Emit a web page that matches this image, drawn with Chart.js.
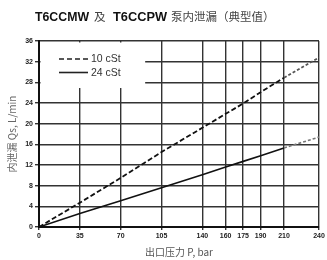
<!DOCTYPE html>
<html><head><meta charset="utf-8">
<script src="https://cdn.jsdelivr.net/npm/chart.js@4/dist/chart.umd.min.js"></script>
<style>html,body{margin:0;padding:0;background:#fff}#wrap{width:327px;height:260px}</style>
</head><body><div id="wrap"><canvas id="c" width="327" height="260"></canvas></div>
<script>
const pressure = [0, 35, 70, 105, 140, 160, 175, 190, 210, 240];
const xTickValues = [0, 35, 70, 105, 140, 160, 175, 190, 210, 240];
const cst10 = [0, 4.7, 9.5, 14.5, 19.2, 21.9, 23.9, 26.1, 28.9, 32.8];
const cst24 = [0, 2.6, 5.1, 7.6, 10.1, 11.6, 12.7, 13.8, 15.3, 17.4];
const seriesNames = ['10 cSt', '24 cSt'];
const titleParts = ['T6CCMW', '及', 'T6CCPW', '泵内泄漏（典型值）'];
const FONT = '"Liberation Sans", Arial, "Noto Sans CJK SC", sans-serif';
const CJK = '"Noto Sans CJK SC", "Liberation Sans", sans-serif';

const dim = (ctx, v) => ctx.p0.parsed.x >= 210 ? v : undefined;

const overlay = {
  id: 'overlay',
  beforeDatasetsDraw(chart) {
    const {ctx, scales: {x, y}, chartArea: a} = chart;
    ctx.save();
    ctx.fillStyle = '#fff';
    const r = x.getPixelForValue(91), b = y.getPixelForValue(26.9);
    ctx.fillRect(a.left + 1.5, a.top + 1.5, r - a.left - 1.5, b - a.top - 1.5);
    const items = [[seriesNames[0], [5, 3]], [seriesNames[1], []]];
    items.forEach((it, i) => {
      const yy = a.top + 18 + i * 13.5;
      ctx.strokeStyle = '#222'; ctx.lineWidth = 1.6; ctx.setLineDash(it[1]);
      ctx.beginPath(); ctx.moveTo(a.left + 20, yy); ctx.lineTo(a.left + 49, yy); ctx.stroke();
      ctx.setLineDash([]);
      ctx.fillStyle = '#333'; ctx.font = '10.5px ' + FONT; ctx.textBaseline = 'middle';
      ctx.fillText(it[0], a.left + 52, yy + 0.5);
    });
    ctx.restore();
  },
  afterDraw(chart) {
    const ctx = chart.ctx;
    ctx.save();
    ctx.textBaseline = 'middle';
    const starts = [35, 94, 113, 171];
    const widths = [54, 13, 54, 104];
    titleParts.forEach((p, i) => {
      if (i % 2 === 0) { ctx.font = 'bold 13px ' + FONT; ctx.fillStyle = '#111'; }
      else { ctx.font = '11.5px ' + CJK; ctx.fillStyle = '#444'; }
      ctx.fillText(p, starts[i], 17, widths[i]);
    });
    ctx.restore();
  }
};

new Chart(document.getElementById('c'), {
  type: 'line',
  data: {
    datasets: [
      {
        label: seriesNames[0],
        data: pressure.map((p, i) => ({x: p, y: cst10[i]})),
        borderColor: '#111', borderWidth: 1.8, borderDash: [5, 2.5],
        pointRadius: 0, fill: false, tension: 0,
        segment: { borderDash: c => dim(c, [3, 2]), borderColor: c => dim(c, '#555') }
      },
      {
        label: seriesNames[1],
        data: pressure.map((p, i) => ({x: p, y: cst24[i]})),
        borderColor: '#111', borderWidth: 1.6,
        pointRadius: 0, fill: false, tension: 0,
        segment: { borderDash: c => dim(c, [3, 2]), borderColor: c => dim(c, '#777') }
      }
    ]
  },
  options: {
    responsive: false, animation: false, devicePixelRatio: 1,
    layout: { padding: { top: 41, right: 8, left: 0, bottom: 0 } },
    plugins: { legend: { display: false }, tooltip: { enabled: false } },
    scales: {
      x: {
        type: 'linear', min: 0, max: 240,
        afterBuildTicks: s => { s.ticks = xTickValues.map(v => ({value: v})); },
        afterFit: s => { s.height = 33; },
        grid: { color: '#333', lineWidth: 1.4, tickLength: 3, drawTicks: true },
        border: { color: '#111', width: 2 },
        ticks: { autoSkip: false, maxRotation: 0, padding: 2, color: '#222', font: { size: 7, weight: 'bold', family: FONT } },
        title: { display: true, text: '出口压力 P, bar', color: '#555', font: { size: 10, family: CJK }, padding: { top: 0, bottom: 2 } }
      },
      y: {
        min: 0, max: 36,
        ticks: { stepSize: 4, padding: 2, color: '#222', font: { size: 7, weight: 'bold', family: FONT } },
        afterFit: s => { s.width = 39; },
        grid: { color: '#333', lineWidth: 1.4, tickLength: 4 },
        border: { color: '#111', width: 2 },
        title: { display: true, text: '内泄漏 Qs, L/min', color: '#666', font: { size: 10, family: CJK }, padding: { top: 6, bottom: 0 } }
      }
    }
  },
  plugins: [overlay]
});
</script></body></html>
